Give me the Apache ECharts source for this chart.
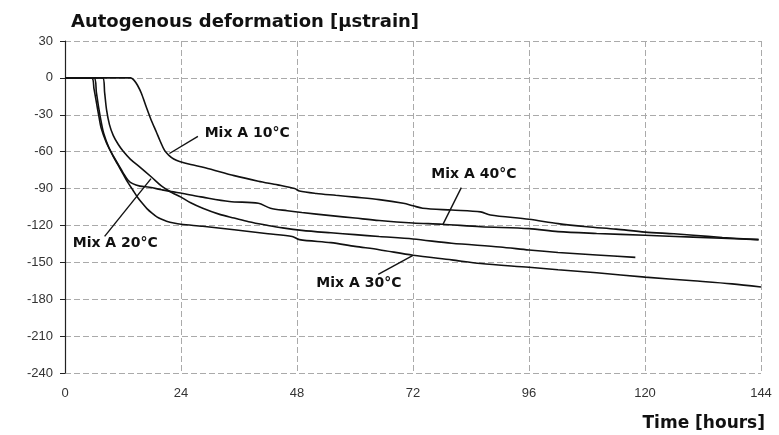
<!DOCTYPE html>
<html>
<head>
<meta charset="utf-8">
<script src="https://cdn.jsdelivr.net/npm/echarts@6/dist/echarts.min.js"></script>
<style>html,body{margin:0;padding:0;background:#fff}#c{width:779px;height:435px}</style>
</head>
<body>
<div id="c"></div>
<script>
// ---- data (hours, microstrain) ----
const xTicks = [0, 24, 48, 72, 96, 120, 144];
const yTicks = [30, 0, -30, -60, -90, -120, -150, -180, -210, -240];

const mix10 = [[0,0],[13.6,0],[14.3,-2],[15,-6],[15.8,-12.5],[16.8,-23.5],[17.8,-34],[18.9,-44],[19.7,-51.5],[20.6,-59],[21.5,-63],[22.5,-66],[23.7,-68],[26,-70.5],[29,-73],[35,-79.5],[40,-84],[44,-87],[47.5,-90],[48.5,-92],[52,-94],[56,-95.5],[60,-97],[65,-99],[70,-102],[72,-104],[74,-106],[80,-107.5],[86,-109],[88,-111.5],[96,-115],[102,-118.5],[108,-121],[114,-123],[120,-125.4],[126,-126.8],[130,-128],[136,-129.8],[143.5,-131.5]];

const mix20 = [[0,0],[7.8,0],[8.2,-12],[8.6,-26],[9.2,-38],[10,-47],[11,-54],[12,-59.5],[13.5,-66],[15.5,-72.5],[18,-81],[20,-88],[22,-93],[24,-97],[26,-101.5],[28.5,-106],[32,-111],[35,-114],[38,-117],[42,-120],[45,-122],[49,-124],[55,-126],[60,-127.5],[65,-129],[72,-131],[80,-134.5],[90,-137.5],[96,-140],[102,-142],[110,-144],[118,-146]];

const mix30 = [[0,0],[6,0],[6.5,-12],[7,-25],[7.5,-36],[8,-45],[9,-56],[10,-64],[11,-71],[12,-78],[13,-85],[14,-91],[15,-97],[16,-102],[17,-106.5],[18,-110],[19,-113],[20,-115],[21,-116.5],[22.5,-118],[24,-119],[28.5,-120.7],[35,-123.5],[42,-126.7],[47,-129],[48.5,-131.5],[55,-134],[60,-137],[65,-139.7],[72,-144.2],[80,-148],[86,-151],[96,-154],[102,-156],[110,-158.5],[120,-162],[130,-165],[138,-167.5],[144,-170]];

const mix40 = [[0,0],[5.5,0],[6,-9],[6.5,-20],[7,-31],[7.5,-41],[8.5,-52],[9.5,-60],[10.5,-67],[12,-77],[13,-83],[14,-86],[15.5,-88],[17.5,-89],[20,-91],[22,-92.5],[24.4,-94],[28.5,-97],[34,-100.5],[40,-102],[42.5,-106],[46,-108],[49,-109.5],[55,-112],[60,-114],[65,-116],[72,-118],[78,-119],[86,-121],[96,-122.6],[102,-125],[110,-126.5],[120,-128],[130,-129.5],[143.5,-131.5]];

// annotation labels: text, label centre, leader line start/end (data coords)
const labelNames = ['Mix A 10°C', 'Mix A 20°C', 'Mix A 40°C', 'Mix A 30°C'];
const labelPos = [[37.7,-45.3],[10.4,-134.8],[84.6,-78.4],[60.8,-167.4]];
const leaderFrom = [[27.5,-47.5],[8.2,-128.9],[82,-89.2],[64.8,-159.8]];
const leaderTo = [[21.6,-61.5],[17.8,-81.9],[78.2,-119.1],[72,-144.3]];

const titleText = 'Autogenous deformation [µstrain]';
const xName = 'Time [hours]';

// ---- chart ----
const chart = echarts.init(document.getElementById('c'), null, {renderer: 'canvas'});
const curveStyle = {color: '#111', width: 1.6};
function curve(name, data) {
  return {
    name, type: 'line', data, showSymbol: false, smooth: 0.3,
    lineStyle: curveStyle, itemStyle: {color: '#111'}, silent: true, z: 3
  };
}
const bold = 'DejaVu Sans';
chart.setOption({
  animation: false,
  backgroundColor: '#fff',
  title: [
    {text: titleText, left: 66, top: 8, textStyle: {fontFamily: bold, fontWeight: 'bold', fontSize: 18, color: '#111'}},
    {text: xName, right: 9, top: 410, textStyle: {fontFamily: bold, fontWeight: 'bold', fontSize: 17, color: '#111'}}
  ],
  grid: {left: 65, right: 18, top: 41, bottom: 62, containLabel: false},
  xAxis: {
    type: 'value', min: xTicks[0], max: xTicks[xTicks.length - 1], interval: 24,
    axisLine: {show: false}, axisTick: {show: false},
    axisLabel: {margin: 14, color: '#333', fontFamily: 'Liberation Sans', fontSize: 13},
    splitLine: {show: true, lineStyle: {color: '#aaa', width: 1, type: [6, 3]}}
  },
  yAxis: {
    type: 'value', min: yTicks[yTicks.length - 1], max: yTicks[0], interval: 30,
    axisLine: {show: true, onZero: false, lineStyle: {color: '#222', width: 1.2}},
    axisTick: {show: true, length: 5, lineStyle: {color: '#222'}},
    axisLabel: {margin: 12, color: '#333', fontFamily: 'Liberation Sans', fontSize: 13},
    splitLine: {show: true, lineStyle: {color: '#aaa', width: 1, type: [6, 3]}}
  },
  series: [
    curve('Mix A 10°C', mix10),
    curve('Mix A 20°C', mix20),
    curve('Mix A 30°C', mix30),
    curve('Mix A 40°C', mix40),
    {
      type: 'lines', coordinateSystem: 'cartesian2d', silent: true, z: 4,
      lineStyle: {color: '#111', width: 1.4, opacity: 1},
      data: leaderFrom.map((p, i) => ({coords: [p, leaderTo[i]]}))
    },
    {
      type: 'scatter', symbolSize: 0, silent: true, z: 5,
      itemStyle: {opacity: 1, color: '#111'},
      data: labelPos.map((p, i) => ({name: labelNames[i], value: p})),
      label: {show: true, position: 'inside', formatter: '{b}', fontFamily: bold, fontWeight: 'bold', fontSize: 14, color: '#111', opacity: 1}
    }
  ]
});
</script>
</body>
</html>
